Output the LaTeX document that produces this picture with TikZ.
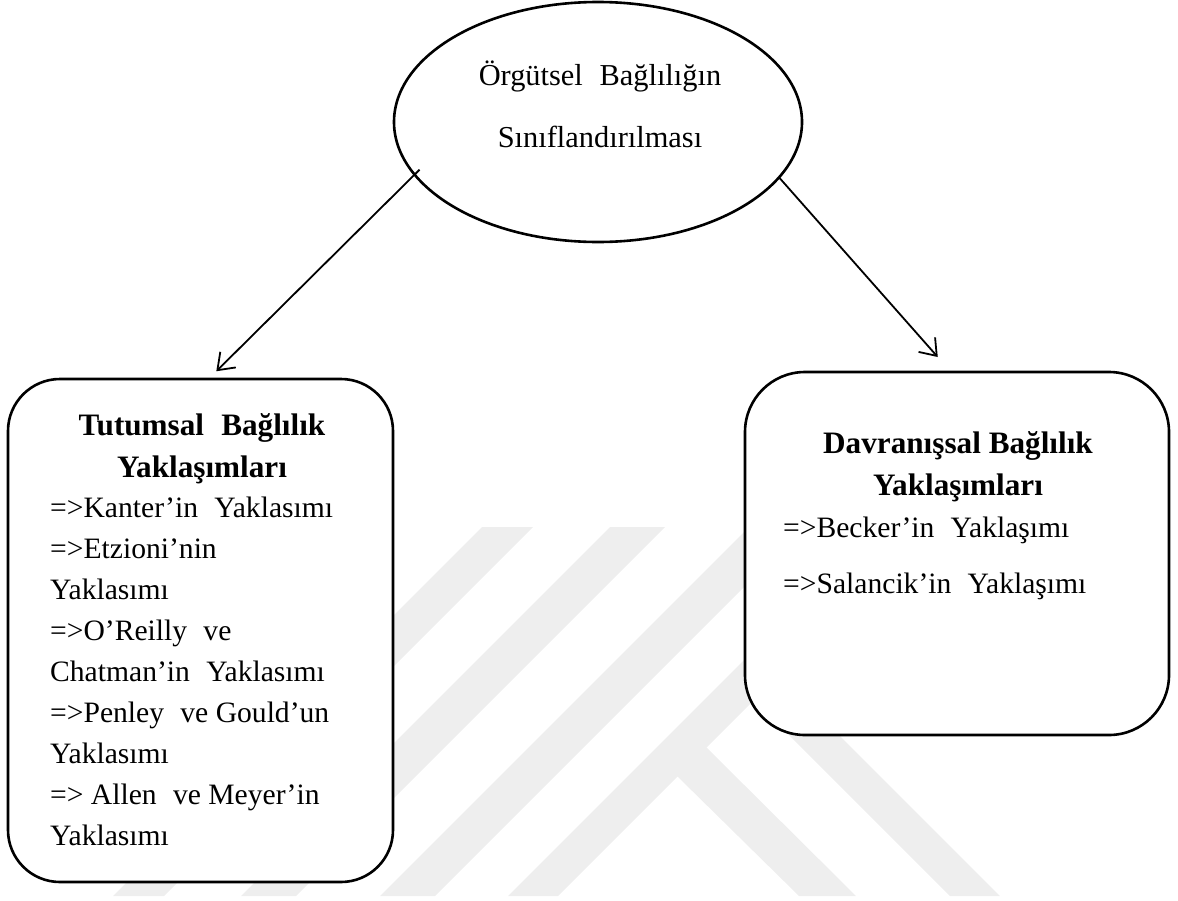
\documentclass[tikz,border=0pt]{standalone}
\usepackage{fontspec}
\setmainfont{Liberation Serif}
\usetikzlibrary{shapes.geometric,arrows.meta}
\definecolor{wmark}{RGB}{238,238,238}
% wide word gap as set by the justified source text
\newcommand\wgap{\hspace{0.55em}}

\begin{document}
\begin{tikzpicture}[x=1pt,y=-1pt,
  stripe/.style={fill=wmark,draw=none},
  frame/.style={draw=black,line width=2.6pt,fill=white,inner sep=0pt,outer sep=0pt},
  flow/.style={draw=black,line width=1.8pt,
    -{Straight Barb[length=15pt,width=22pt,line width=1.8pt]}},
  plain/.style={font=\fontsize{29.6}{41}\selectfont,inner sep=0pt},
  heading/.style={font=\fontsize{31.2}{42}\selectfont\bfseries,inner sep=0pt},
  roottext/.style={font=\fontsize{30.4}{62}\selectfont,inner sep=0pt},
]
\useasboundingbox (0,0) rectangle (1178,900);

% faint background logo: diagonal bands
\fill[stripe] (482,527) -- (533,527) -- (164,896) -- (113,896) -- cycle;
\fill[stripe] (610,527) -- (665,527) -- (296,896) -- (241,896) -- cycle;
\fill[stripe] (749,527) -- (804,527) -- (435,896) -- (380,896) -- cycle;
\fill[stripe] (877,527) -- (927,527) -- (558,896) -- (508,896) -- cycle;
\fill[stripe] (677,776) -- (706,747) -- (856,896) -- (799,896) -- cycle;
\fill[stripe] (754,700) -- (779,675) -- (1000,896) -- (950,896) -- cycle;

% root ellipse
\node[frame,ellipse,minimum width=408pt,minimum height=240pt] (root) at (598,122) {};
\node[roottext,anchor=base] (roottxt) at (600,85)
  {\begin{tabular}[t]{@{}c@{}}Örgütsel\wgap Bağlılığın\\Sınıflandırılması\end{tabular}};

% left box
\node[frame,rounded corners=52pt,minimum width=385pt,minimum height=503pt] (lbox) at (200.5,630.5) {};
\node[heading,anchor=base] (lhead) at (202,435)
  {\begin{tabular}[t]{@{}c@{}}Tutumsal\wgap Bağlılık\\Yaklaşımları\end{tabular}};
\node[plain,anchor=base west] (llist) at (50,517)
  {\begin{tabular}[t]{@{}l@{}}
   =>Kanter’in\wgap Yaklasımı\\
   =>Etzioni’nin\\
   Yaklasımı\\
   =>O’Reilly\wgap ve\\
   Chatman’in\wgap Yaklasımı\\
   =>Penley\wgap ve Gould’un\\
   Yaklasımı\\
   => Allen\wgap ve Meyer’in\\
   Yaklasımı
  \end{tabular}};

% right box
\node[frame,rounded corners=60pt,minimum width=424pt,minimum height=363pt] (rbox) at (957,553.5) {};
\node[heading,anchor=base] (rhead) at (958,453)
  {\begin{tabular}[t]{@{}c@{}}Davranışsal Bağlılık\\Yaklaşımları\end{tabular}};
\node[plain,anchor=base west] (rlist) at (783,537)
  {\begin{tabular}[t]{@{}l@{}}
   =>Becker’in\wgap Yaklaşımı\\[15pt]
   =>Salancik’in\wgap Yaklaşımı
  \end{tabular}};

% connectors
\draw[flow,shorten <=-7pt,shorten >=11pt] (root.196) -- ([xshift=8pt]lbox.north);
\draw[flow,shorten >=20pt] (root.-17) -- ([xshift=-6pt]rbox.north);
\end{tikzpicture}
\end{document}
